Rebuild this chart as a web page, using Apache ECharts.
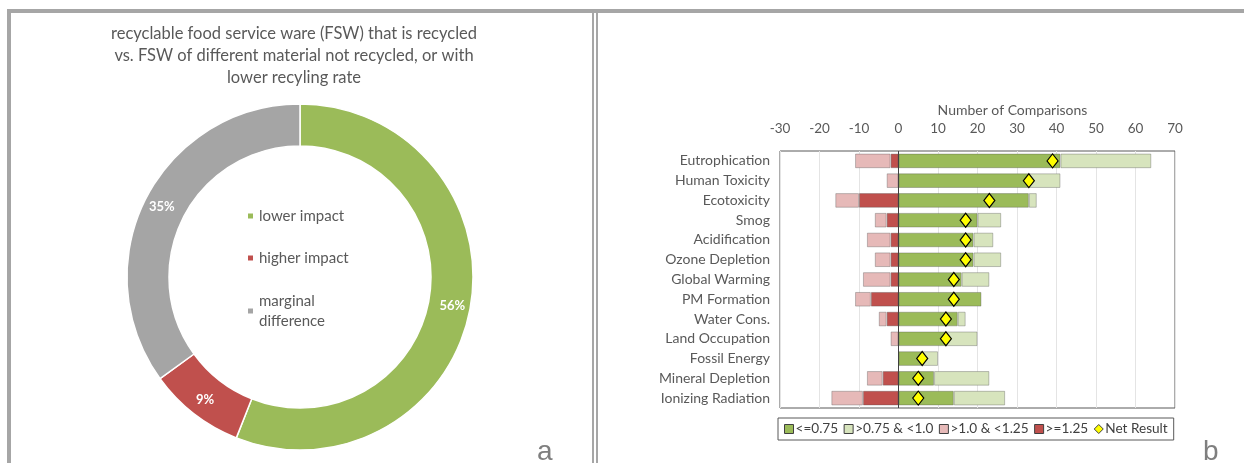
<!DOCTYPE html>
<html lang="en">
<head>
    <meta charset="utf-8">
    <title>FSW comparisons</title>
    <script src="https://cdn.jsdelivr.net/npm/echarts@6/dist/echarts.min.js"></script>
    <style>
        html, body { margin: 0; padding: 0; background: #fff; }
    </style>
</head>
<body>
<div id="main" style="width: 1244px;height:463px;"></div>

<script type="text/javascript">
    // panel a: donut shares
    var shareNames = ['lower impact', 'higher impact', 'marginal difference'];
    var shareValues = [56, 9, 35];
    var shareColors = ['#9BBB59', '#C0504D', '#A5A5A5'];

    // panel b: impact categories and counts
    var categories = ['Eutrophication', 'Human Toxicity', 'Ecotoxicity', 'Smog', 'Acidification',
        'Ozone Depletion', 'Global Warming', 'PM Formation', 'Water Cons.', 'Land Occupation',
        'Fossil Energy', 'Mineral Depletion', 'Ionizing Radiation'];
    var lowRatio = [41, 33, 33, 20, 19, 19, 16, 21, 15, 12, 6, 9, 14];       // <=0.75
    var midLowRatio = [23, 8, 2, 6, 5, 7, 7, 0, 2, 8, 4, 14, 13];           // >0.75 & <1.0
    var midHighRatio = [-9, -3, -6, -3, -6, -4, -7, -4, -2, -2, 0, -4, -8];  // >1.0 & <1.25
    var highRatio = [-2, 0, -10, -3, -2, -2, -2, -7, -3, 0, 0, -4, -9];      // >=1.25
    var netResult = [39, 33, 23, 17, 17, 17, 14, 14, 12, 12, 6, 5, 5];
    var xTicks = {min: -30, max: 70, step: 10};

    var font = 'Lato';
    var grey = '#595959';
    var barBorder = 'rgba(80,80,80,0.35)';

    function noZero(arr) {
        return arr.map(function (v) { return v === 0 ? '-' : v; });
    }

    var myChart = echarts.init(document.getElementById('main'));

    var option = {
        animation: false,
        textStyle: {fontFamily: font},
        title: [
            {
                text: 'recyclable food service ware (FSW) that is recycled\nvs. FSW of different material not recycled, or with\nlower recyling rate',
                left: 289, top: 18, textAlign: 'center',
                textStyle: {fontFamily: font, fontSize: 16.5, fontWeight: 'normal', color: grey, lineHeight: 22}
            },
            {
                text: 'a', left: 532, top: 433,
                textStyle: {fontFamily: 'Liberation Sans', fontSize: 28, fontWeight: 'normal', color: '#7f7f7f'}
            },
            {
                text: 'b', left: 1198, top: 433,
                textStyle: {fontFamily: 'Liberation Sans', fontSize: 28, fontWeight: 'normal', color: '#7f7f7f'}
            }
        ],
        legend: [
            {
                data: ['lower impact', 'higher impact'],
                orient: 'vertical', left: 241, top: 201,
                icon: 'rect', itemWidth: 7, itemHeight: 7, itemGap: 22,
                textStyle: {fontFamily: font, fontSize: 15, color: grey, lineHeight: 20}
            },
            {
                data: ['marginal difference'],
                orient: 'vertical', left: 241, top: 276,
                icon: 'rect', itemWidth: 7, itemHeight: 7,
                formatter: function () { return 'marginal\ndifference'; },
                textStyle: {fontFamily: font, fontSize: 15, color: grey, lineHeight: 20, padding: [20, 0, 0, 0]}
            },
            {
                data: [
                    {name: '<=0.75', icon: 'rect'},
                    {name: '>0.75 & <1.0', icon: 'rect'},
                    {name: '>1.0 & <1.25', icon: 'rect'},
                    {name: '>=1.25', icon: 'rect'},
                    {name: 'Net Result', icon: 'diamond'}
                ],
                left: 778, top: 418,
                borderColor: grey, borderWidth: 1, padding: [4, 6],
                itemWidth: 9, itemHeight: 9, itemGap: 5.5,
                itemStyle: {borderColor: '#404040', borderWidth: 1},
                textStyle: {fontFamily: font, fontSize: 13.6, color: '#404040', padding: [0, 0, 0, -3]}
            }
        ],
        grid: {
            left: 780, top: 151, width: 395, height: 257,
            show: true, borderColor: grey, borderWidth: 1
        },
        xAxis: {
            type: 'value', position: 'top',
            min: xTicks.min, max: xTicks.max, interval: xTicks.step,
            name: 'Number of Comparisons', nameLocation: 'middle', nameGap: 33,
            nameTextStyle: {fontFamily: font, fontSize: 14, color: grey, padding: [0, 0, 0, 70]},
            axisLine: {show: false}, axisTick: {show: false},
            axisLabel: {fontFamily: font, fontSize: 13.5, color: grey, margin: 15},
            splitLine: {show: true, lineStyle: {color: '#e4e4e4', width: 1}}
        },
        yAxis: {
            type: 'category', data: categories, inverse: true,
            axisLine: {show: false}, axisTick: {show: false},
            axisLabel: {fontFamily: font, fontSize: 14, color: grey, margin: 10}
        },
        series: [
            {
                type: 'pie', name: 'share',
                center: [300, 277], radius: [131, 173],
                startAngle: 90, clockwise: true,
                data: shareNames.map(function (n, i) {
                    return {name: n, value: shareValues[i], itemStyle: {color: shareColors[i]}};
                }),
                itemStyle: {borderColor: '#fff', borderWidth: 1.5},
                label: {
                    show: true, position: 'inside', formatter: '{c}%',
                    color: '#fff', fontWeight: 'bold', fontSize: 13, fontFamily: font
                },
                labelLine: {show: false},
                emphasis: {disabled: true}
            },
            {
                type: 'bar', name: '<=0.75', stack: 'cmp', data: noZero(lowRatio),
                barCategoryGap: '26%',
                itemStyle: {color: '#9BBB59', borderColor: barBorder, borderWidth: 1},
                markLine: {
                    silent: true, symbol: 'none', label: {show: false},
                    lineStyle: {color: '#404040', width: 1, type: 'solid'},
                    data: [{xAxis: 0}]
                }
            },
            {
                type: 'bar', name: '>0.75 & <1.0', stack: 'cmp', data: noZero(midLowRatio),
                itemStyle: {color: '#D7E4BD', borderColor: barBorder, borderWidth: 1}
            },
            {
                type: 'bar', name: '>=1.25', stack: 'cmp', data: noZero(highRatio),
                itemStyle: {color: '#C0504D', borderColor: barBorder, borderWidth: 1}
            },
            {
                type: 'bar', name: '>1.0 & <1.25', stack: 'cmp', data: noZero(midHighRatio),
                itemStyle: {color: '#E6B9B8', borderColor: barBorder, borderWidth: 1}
            },
            {
                type: 'scatter', name: 'Net Result', z: 5,
                data: netResult.map(function (v, i) { return [v, categories[i]]; }),
                symbol: 'diamond', symbolSize: [11, 14],
                itemStyle: {color: '#FFFF00', borderColor: '#000', borderWidth: 1.2, opacity: 1}
            }
        ],
        graphic: [
            {type: 'rect', shape: {x: 7, y: 9, width: 1237, height: 4}, style: {fill: '#a6a6a6'}},
            {type: 'rect', shape: {x: 7, y: 9, width: 4, height: 454}, style: {fill: '#a6a6a6'}},
            {type: 'rect', shape: {x: 592, y: 9, width: 2, height: 454}, style: {fill: '#a6a6a6'}},
            {type: 'rect', shape: {x: 596, y: 9, width: 2, height: 454}, style: {fill: '#a6a6a6'}}
        ]
    };

    myChart.setOption(option);
</script>

</body>
</html>
